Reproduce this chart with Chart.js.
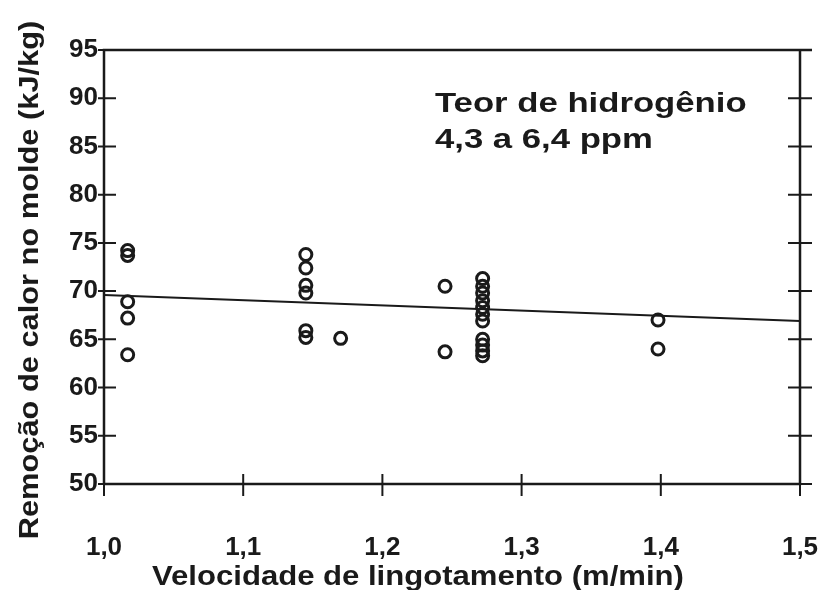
<!DOCTYPE html>
<html>
<head>
<meta charset="utf-8">
<script src="https://cdn.jsdelivr.net/npm/chart.js@4/dist/chart.umd.min.js"></script>
<style>
    html, body { margin: 0; padding: 0; background: #fff; }
    #wrap { width: 819px; height: 590px; }
</style>
</head>
<body>
<div id="wrap"><canvas id="chart" width="819" height="590"></canvas></div>
<script>
// Velocidade (m/min) e remoção de calor (kJ/kg)
const speedValues = [
    1.017, 1.017, 1.017, 1.017, 1.017,
    1.145, 1.145, 1.145, 1.145, 1.145, 1.145, 1.17,
    1.245, 1.245,
    1.272, 1.272, 1.272, 1.272, 1.272, 1.272, 1.272, 1.272, 1.272, 1.272, 1.272,
    1.398, 1.398
];
const heatValues = [
    74.2, 73.7, 68.9, 67.2, 63.4,
    73.8, 72.4, 70.6, 69.8, 65.9, 65.2, 65.1,
    70.5, 63.7,
    71.3, 70.5, 69.8, 69.0, 68.3, 67.6, 66.9, 65.0, 64.4, 63.8, 63.3,
    67.0, 64.0
];
// Linha de tendência
const trendSpeed = [1.0, 1.5];
const trendHeat = [69.6, 66.9];

const xTicks = [1.0, 1.1, 1.2, 1.3, 1.4, 1.5];
const yTicks = [50, 55, 60, 65, 70, 75, 80, 85, 90, 95];

const xTitle = 'Velocidade de lingotamento (m/min)';
const yTitle = 'Remoção de calor no molde (kJ/kg)';
const noteLines = ['Teor de hidrogênio', '4,3 a 6,4 ppm'];

const ink = '#1a1a1a';
const fontFamily = 'Arial, "Liberation Sans", sans-serif';

// Texto alargado na horizontal, como no original digitalizado
function wideText(ctx, text, x, y, stretch) {
    ctx.save();
    ctx.translate(x, y);
    ctx.scale(stretch, 1);
    ctx.fillText(text, 0, 0);
    ctx.restore();
}

// Moldura, marcas cruzando os eixos, títulos e anotação
const framePlugin = {
    id: 'frame',
    afterDraw(chart) {
        const { ctx, chartArea: a, scales } = chart;
        ctx.save();
        ctx.strokeStyle = ink;
        ctx.lineWidth = 2.5;
        ctx.beginPath();
        ctx.moveTo(a.left, a.bottom);
        ctx.lineTo(a.left, a.top);
        ctx.lineTo(a.right + 12, a.top);
        ctx.moveTo(a.right, a.top);
        ctx.lineTo(a.right, a.bottom);
        ctx.lineTo(a.left, a.bottom);
        ctx.stroke();
        ctx.lineWidth = 2;
        yTicks.forEach((v) => {
            const y = scales.y.getPixelForValue(v);
            ctx.beginPath();
            ctx.moveTo(a.left - 6, y);
            ctx.lineTo(a.left + 12, y);
            ctx.moveTo(a.right - 12, y);
            ctx.lineTo(a.right + 12, y);
            ctx.stroke();
        });
        xTicks.forEach((v) => {
            const x = scales.x.getPixelForValue(v);
            ctx.beginPath();
            ctx.moveTo(x, a.bottom - 10);
            ctx.lineTo(x, a.bottom + 12);
            ctx.stroke();
        });

        ctx.fillStyle = ink;
        ctx.textBaseline = 'alphabetic';

        // Títulos dos eixos
        ctx.font = 'bold 28px ' + fontFamily;
        ctx.textAlign = 'center';
        wideText(ctx, xTitle, 418, 585, 1.11);
        ctx.save();
        ctx.translate(38, 280);
        ctx.rotate(-Math.PI / 2);
        wideText(ctx, yTitle, 0, 0, 1.1);
        ctx.restore();

        // Anotação
        ctx.font = 'bold 27px ' + fontFamily;
        ctx.textAlign = 'left';
        wideText(ctx, noteLines[0], 435, 112, 1.285);
        wideText(ctx, noteLines[1], 435, 148, 1.285);
        ctx.restore();
    }
};

const points = speedValues.map((x, i) => ({ x: x, y: heatValues[i] }));
const trend = trendSpeed.map((x, i) => ({ x: x, y: trendHeat[i] }));

new Chart(document.getElementById('chart'), {
    type: 'scatter',
    data: {
        datasets: [
            {
                data: points,
                pointStyle: 'circle',
                pointRadius: 6,
                pointBorderWidth: 3,
                borderColor: ink,
                backgroundColor: 'rgba(255,255,255,0)',
                clip: false,
            },
            {
                type: 'line',
                data: trend,
                borderColor: ink,
                borderWidth: 2,
                pointRadius: 0,
                fill: false,
            },
        ],
    },
    options: {
        responsive: false,
        animation: false,
        layout: { padding: { top: 50, right: 0, left: 0, bottom: 0 } },
        plugins: {
            legend: { display: false },
            tooltip: { enabled: false },
        },
        scales: {
            x: {
                type: 'linear',
                min: 1.0,
                max: 1.5,
                afterBuildTicks: (scale) => {
                    scale.ticks = xTicks.map((v) => ({ value: v }));
                },
                afterFit: (scale) => {
                    scale.height = 106;
                    scale.paddingLeft = 0;
                    scale.paddingRight = 19;
                },
                grid: { display: false, drawTicks: false },
                border: { display: false },
                ticks: {
                    color: ink,
                    padding: 48,
                    maxRotation: 0,
                    font: { family: fontFamily, size: 26, weight: 'bold' },
                    callback: (v) => v.toFixed(1).replace('.', ','),
                },
            },
            y: {
                type: 'linear',
                min: 50,
                max: 95,
                afterBuildTicks: (scale) => {
                    scale.ticks = yTicks.map((v) => ({ value: v }));
                },
                afterFit: (scale) => {
                    scale.width = 104;
                },
                grid: { display: false, drawTicks: false },
                border: { display: false },
                ticks: {
                    color: ink,
                    padding: 6,
                    font: { family: fontFamily, size: 26, weight: 'bold' },
                },
            },
        },
    },
    plugins: [framePlugin],
});
</script>
</body>
</html>
